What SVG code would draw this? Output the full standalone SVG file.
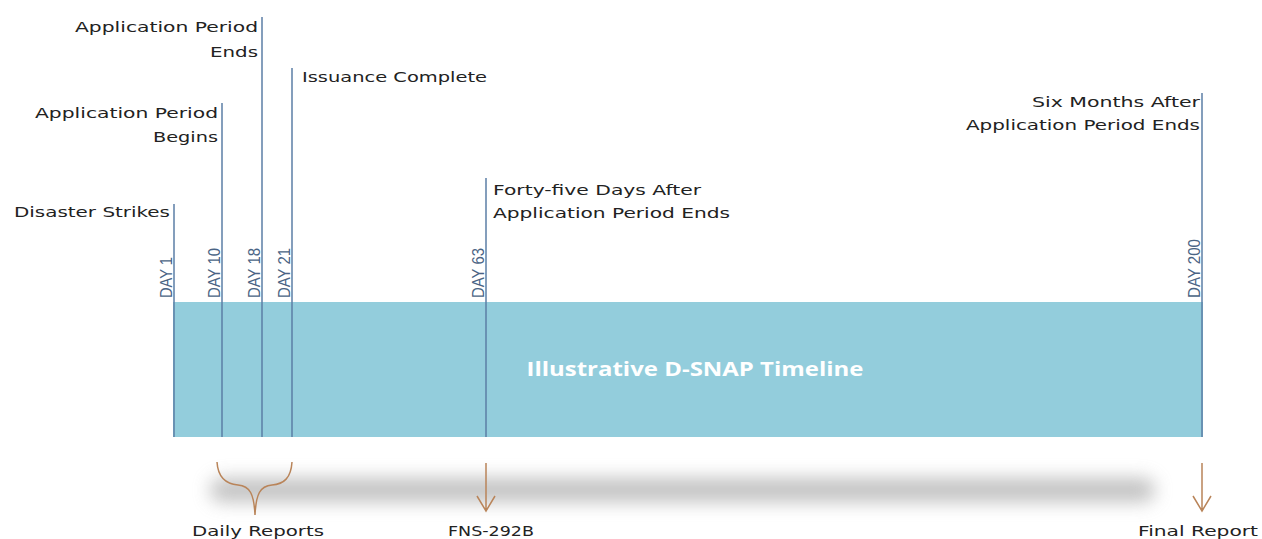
<svg xmlns="http://www.w3.org/2000/svg" width="1262" height="539" viewBox="0 0 1262 539">
<defs>
<style>
.lbl{font-family:"DejaVu Sans","Liberation Sans",sans-serif;font-size:14px;fill:#222}
.day{font-family:"Liberation Sans",sans-serif;font-size:17px;fill:#4a6485}
.tick{stroke:#5b7ea6;stroke-width:1.5;fill:none}
.rep{stroke:#b98459;stroke-width:1.5;fill:none}
.title{font-family:"Open Sans","DejaVu Sans",sans-serif;font-size:19px;font-weight:bold;fill:#ffffff}
</style>
<filter id="blur" x="-20%" y="-100%" width="140%" height="300%"><feGaussianBlur stdDeviation="9"/></filter>
</defs>
<rect width="1262" height="539" fill="#ffffff"/>
<g id="shadow">
<rect x="210" y="478" width="945" height="24" rx="12" fill="#9a9a9a" opacity="0.6" filter="url(#blur)"/>
</g>
<g id="timeline-bar">
<rect x="173" y="302" width="1030" height="135" fill="#93cddc"/>
<text class="title" x="695" y="376" text-anchor="middle" textLength="337" lengthAdjust="spacingAndGlyphs">Illustrative D-SNAP Timeline</text>
</g>
<g id="connectors">
<line class="tick" x1="174" y1="204" x2="174" y2="437"/>
<line class="tick" x1="222" y1="103" x2="222" y2="437"/>
<line class="tick" x1="262" y1="17" x2="262" y2="437"/>
<line class="tick" x1="292" y1="68" x2="292" y2="437"/>
<line class="tick" x1="486" y1="178" x2="486" y2="437"/>
<line class="tick" x1="1202" y1="93" x2="1202" y2="437"/>
<path class="rep" d="M217,462 C218,478 226,484 238,485 C250,486 254,494 255,515 C256,494 260,486 272,485 C284,484 291,478 292,462"/>
<path class="rep" d="M486,463 L486,511 M477,496 L486,511 L495,496"/>
<path class="rep" d="M1202,463 L1202,511 M1193,496 L1202,511 L1211,496"/>
</g>
<g id="day1">
<text class="day" transform="translate(172,298) rotate(-90)" textLength="41" lengthAdjust="spacingAndGlyphs">DAY 1</text>
<text class="lbl" x="170" y="217" text-anchor="end" textLength="156" lengthAdjust="spacingAndGlyphs">Disaster Strikes</text>
</g>
<g id="day10">
<text class="day" transform="translate(220,298) rotate(-90)" textLength="50" lengthAdjust="spacingAndGlyphs">DAY 10</text>
<text class="lbl" x="218" y="118" text-anchor="end" textLength="183" lengthAdjust="spacingAndGlyphs">Application Period</text>
<text class="lbl" x="218" y="142" text-anchor="end" textLength="65" lengthAdjust="spacingAndGlyphs">Begins</text>
</g>
<g id="day18">
<text class="day" transform="translate(260,298) rotate(-90)" textLength="50" lengthAdjust="spacingAndGlyphs">DAY 18</text>
<text class="lbl" x="258" y="32" text-anchor="end" textLength="183" lengthAdjust="spacingAndGlyphs">Application Period</text>
<text class="lbl" x="258" y="57" text-anchor="end" textLength="48" lengthAdjust="spacingAndGlyphs">Ends</text>
</g>
<g id="day21">
<text class="day" transform="translate(290,298) rotate(-90)" textLength="50" lengthAdjust="spacingAndGlyphs">DAY 21</text>
<text class="lbl" x="302" y="82" textLength="185" lengthAdjust="spacingAndGlyphs">Issuance Complete</text>
</g>
<g id="day63">
<text class="day" transform="translate(484,298) rotate(-90)" textLength="50" lengthAdjust="spacingAndGlyphs">DAY 63</text>
<text class="lbl" x="493" y="195" textLength="208" lengthAdjust="spacingAndGlyphs">Forty-five Days After</text>
<text class="lbl" x="493" y="218" textLength="237" lengthAdjust="spacingAndGlyphs">Application Period Ends</text>
</g>
<g id="day200">
<text class="day" transform="translate(1200,298) rotate(-90)" textLength="59" lengthAdjust="spacingAndGlyphs">DAY 200</text>
<text class="lbl" x="1200" y="107" text-anchor="end" textLength="168" lengthAdjust="spacingAndGlyphs">Six Months After</text>
<text class="lbl" x="1200" y="130" text-anchor="end" textLength="234" lengthAdjust="spacingAndGlyphs">Application Period Ends</text>
</g>
<g id="reports">
<text class="lbl" x="192" y="536" textLength="132" lengthAdjust="spacingAndGlyphs">Daily Reports</text>
<text class="lbl" x="448" y="536" textLength="86" lengthAdjust="spacingAndGlyphs">FNS-292B</text>
<text class="lbl" x="1138" y="536" textLength="120" lengthAdjust="spacingAndGlyphs">Final Report</text>
</g>
</svg>
